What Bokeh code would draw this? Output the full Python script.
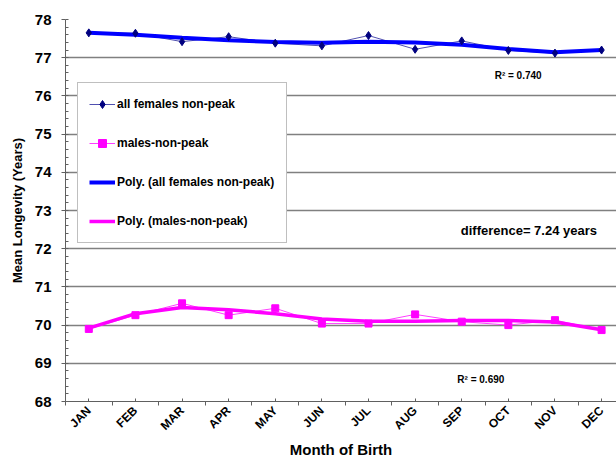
from math import pi
from bokeh.plotting import figure
from bokeh.models import FixedTicker, Label, Legend, LegendItem, Range1d
from bokeh.embed import file_html
from bokeh.resources import INLINE

months = ["JAN", "FEB", "MAR", "APR", "MAY", "JUN", "JUL", "AUG", "SEP", "OCT", "NOV", "DEC"]
month_idx = list(range(12))
females = [77.65, 77.64, 77.42, 77.55, 77.38, 77.31, 77.58, 77.22, 77.44, 77.19, 77.12, 77.20]
males = [69.90, 70.26, 70.57, 70.26, 70.44, 70.04, 70.04, 70.28, 70.09, 70.00, 70.13, 69.87]
females_trend = [77.65, 77.60, 77.52, 77.46, 77.41, 77.39, 77.42, 77.40, 77.34, 77.23, 77.14, 77.20]
males_trend = [69.92, 70.30, 70.46, 70.40, 70.30, 70.16, 70.10, 70.10, 70.12, 70.12, 70.08, 69.88]
y_ticks = [68, 69, 70, 71, 72, 73, 74, 75, 76, 77, 78]
grid_ticks = [69, 70, 71, 72, 73, 74, 75, 76, 77]
y_minor = [round(68 + 0.2 * i, 1) for i in range(51)]
x_bounds = [i - 0.5 for i in range(13)]

SANS = "Liberation Sans"

p = figure(width=616, height=460, output_backend="svg", toolbar_location=None,
           x_range=Range1d(-0.5, 11.32), y_range=Range1d(68, 78),
           min_border_left=65, min_border_right=0, min_border_top=19, min_border_bottom=59)
p.outline_line_color = None
p.background_fill_color = "white"

# grid
p.xgrid.visible = False
p.ygrid.ticker = FixedTicker(ticks=grid_ticks)
p.ygrid.grid_line_color = "#808080"
p.ygrid.grid_line_width = 1.3

# axes
p.xaxis.ticker = FixedTicker(ticks=month_idx, minor_ticks=x_bounds)
p.xaxis.major_label_overrides = {i: m for i, m in enumerate(months)}
p.xaxis.major_label_orientation = pi / 4
p.xaxis.major_tick_in = 3
p.xaxis.major_tick_out = 0
p.xaxis.minor_tick_in = 0
p.xaxis.minor_tick_out = 4
p.xaxis.major_label_standoff = 3
p.xaxis.axis_label_standoff = 0
p.xaxis.axis_label = "Month of Birth"

p.yaxis.ticker = FixedTicker(ticks=y_ticks, minor_ticks=y_minor)
p.yaxis.major_tick_in = 0
p.yaxis.major_tick_out = 4
p.yaxis.minor_tick_in = 3
p.yaxis.minor_tick_out = 0
p.yaxis.axis_label = "Mean Longevity (Years)"
p.yaxis.major_label_standoff = 10
p.yaxis.axis_label_standoff = 7

for ax in (p.xaxis[0], p.yaxis[0]):
    ax.axis_line_color = "#606060"
    ax.major_tick_line_color = "#606060"
    ax.minor_tick_line_color = "#606060"
    ax.major_label_text_font = SANS
    ax.major_label_text_font_style = "bold"
    ax.major_label_text_color = "black"
    ax.axis_label_text_font = SANS
    ax.axis_label_text_font_style = "bold"
    ax.axis_label_text_color = "black"
p.xaxis.major_label_text_font_size = "12px"
p.yaxis.major_label_text_font_size = "15px"
p.xaxis.axis_label_text_font_size = "15px"
p.yaxis.axis_label_text_font_size = "13px"

# series
f_line = p.line(month_idx, females, line_color="#5050B0", line_width=1)
m_line = p.line(month_idx, males, line_color="#FF40FF", line_width=1)
f_trend = p.line(month_idx, females_trend, line_color="#0000FF", line_width=4)
m_trend = p.line(month_idx, males_trend, line_color="#FF00FF", line_width=3.5)
f_pts = p.scatter(month_idx, females, marker="diamond", size=8, fill_color="#000080", line_color="#000080")
m_pts = p.scatter(month_idx, males, marker="square", size=7, fill_color="#FF00FF", line_color="#FF00FF")

legend = Legend(items=[
    LegendItem(label="all females non-peak", renderers=[f_line, f_pts]),
    LegendItem(label="males-non-peak", renderers=[m_line, m_pts]),
    LegendItem(label="Poly. (all females non-peak)", renderers=[f_trend]),
    LegendItem(label="Poly. (males-non-peak)", renderers=[m_trend]),
], location=(12, 158))
legend.border_line_color = "#808080"
legend.border_line_width = 1
legend.background_fill_color = "white"
legend.background_fill_alpha = 1
legend.label_text_font = SANS
legend.label_text_font_style = "bold"
legend.label_text_font_size = "12px"
legend.label_text_color = "black"
legend.glyph_width = 26
legend.glyph_height = 20
legend.label_height = 20
legend.label_standoff = 2
legend.label_width = 158
legend.spacing = 19
legend.padding = 11
legend.margin = 0
p.add_layout(legend, "center")

lab_kw = dict(text_font=SANS, text_font_style="bold", text_color="black",
              text_align="center", text_baseline="middle")
p.add_layout(Label(x=9.21, y=76.53, text="R² = 0.740", text_font_size="10px", **lab_kw))
p.add_layout(Label(x=9.44, y=72.48, text="difference= 7.24 years", text_font_size="13px", **lab_kw))
p.add_layout(Label(x=8.41, y=68.58, text="R² = 0.690", text_font_size="10px", **lab_kw))

open("out.html", "w").write(file_html(p, INLINE))
